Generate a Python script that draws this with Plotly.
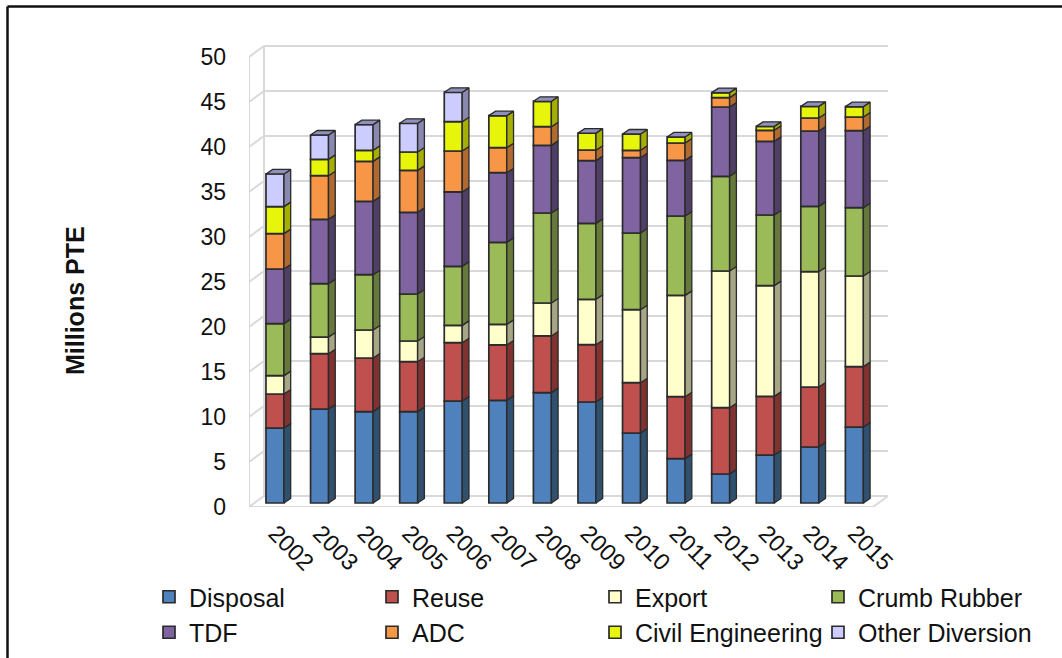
import plotly.graph_objects as go

years = list(range(2002, 2016))
disposal = [8.33, 10.44, 10.15, 10.15, 11.33, 11.41, 12.26, 11.22, 7.78, 4.93, 3.22, 5.33, 6.22, 8.44]
reuse = [3.78, 6.15, 5.96, 5.55, 6.48, 6.15, 6.30, 6.37, 5.59, 6.88, 7.37, 6.52, 6.67, 6.71]
export = [2.04, 1.85, 3.11, 2.30, 1.93, 2.29, 3.66, 5.04, 8.11, 11.26, 15.19, 12.30, 12.81, 10.07]
crumb_rubber = [5.78, 5.93, 6.15, 5.22, 6.56, 9.11, 10.00, 8.44, 8.52, 8.82, 10.52, 7.85, 7.26, 7.59]
tdf = [6.07, 7.15, 8.15, 9.08, 8.26, 7.74, 7.52, 6.97, 8.37, 6.18, 7.70, 8.19, 8.37, 8.56]
adc = [3.93, 4.85, 4.44, 4.66, 4.55, 2.78, 2.07, 1.16, 0.82, 1.93, 1.04, 1.22, 1.45, 1.52]
civil_engineering = [3.00, 1.81, 1.23, 2.04, 3.26, 3.56, 2.82, 1.90, 1.81, 0.67, 0.56, 0.44, 1.29, 1.15]
other_diversion = [3.63, 2.71, 2.85, 3.19, 3.26, 0, 0, 0, 0, 0, 0, 0, 0, 0]

series = [
    ("Disposal", disposal, "#4F81BD", "#30506F"),
    ("Reuse", reuse, "#C0504D", "#7F322F"),
    ("Export", export, "#FFFFCC", "#A6A686"),
    ("Crumb Rubber", crumb_rubber, "#9BBB59", "#66793A"),
    ("TDF", tdf, "#8064A2", "#4F3E66"),
    ("ADC", adc, "#F79646", "#B0692F"),
    ("Civil Engineering", civil_engineering, "#E6F50A", "#A5AF00"),
    ("Other Diversion", other_diversion, "#CCCCFF", "#8888B0"),
]
TOP_FACE = "#9090BC"
EDGE = "#2B2B2B"
WALL = "#D9D9D9"

# Figure and plot-area size in pixels
W, H = 1062, 658
M_L, M_R, M_T, M_B = 249, 172, 40, 151
PX_PER_YEAR = 44.57
PX_PER_UNIT = 9.0
plot_w = W - M_L - M_R
plot_h = H - M_T - M_B
x_min = years[0] - 0.5
x_max = x_min + plot_w / PX_PER_YEAR
y_max = plot_h / PX_PER_UNIT

# Pseudo-3D geometry, in axis units
WALL_DX, WALL_DY = 15 / PX_PER_YEAR, 11 / PX_PER_UNIT
BAR_DX, BAR_DY = 6.7 / PX_PER_YEAR, 4.5 / PX_PER_UNIT
BAR_LIFT = 4 / PX_PER_UNIT
BAR_WIDTH = 18 / PX_PER_YEAR
BAR_SHIFT = 3.7 / PX_PER_YEAR

fig = go.Figure()

cumulative = [BAR_LIFT] * len(years)
for name, values, face, side in series:
    bases = list(cumulative)
    fig.add_trace(go.Bar(
        x=years, y=values, base=bases, name=name,
        offset=BAR_SHIFT - BAR_WIDTH / 2, width=BAR_WIDTH,
        marker=dict(color=face, line=dict(color=EDGE, width=1.7)),
    ))
    sx, sy = [], []
    for yr, b, v in zip(years, bases, values):
        if v <= 0:
            continue
        x1 = yr + BAR_SHIFT + BAR_WIDTH / 2
        sx += [x1, x1 + BAR_DX, x1 + BAR_DX, x1, x1, None]
        sy += [b, b + BAR_DY, b + v + BAR_DY, b + v, b, None]
    fig.add_trace(go.Scatter(
        x=sx, y=sy, mode="lines", fill="toself", fillcolor=side,
        line=dict(color=EDGE, width=1.3), showlegend=False, hoverinfo="skip",
    ))
    cumulative = [c + v for c, v in zip(cumulative, values)]

# Cap on top of every stack
tx, ty = [], []
for yr, c in zip(years, cumulative):
    x0 = yr + BAR_SHIFT - BAR_WIDTH / 2
    x1 = x0 + BAR_WIDTH
    tx += [x0, x0 + BAR_DX, x1 + BAR_DX, x1, x0, None]
    ty += [c, c + BAR_DY, c + BAR_DY, c, c, None]
fig.add_trace(go.Scatter(
    x=tx, y=ty, mode="lines", fill="toself", fillcolor=TOP_FACE,
    line=dict(color=EDGE, width=1.3), showlegend=False, hoverinfo="skip",
))

# Chart walls and floor behind the bars
ticks = list(range(0, 51, 5))
x_front_l = x_min
x_front_r = x_min + len(years)
x_back_l = x_front_l + WALL_DX
x_back_r = x_front_r + WALL_DX


def wall_line(x0, y0, x1, y1):
    return dict(type="line", xref="x", yref="y", x0=x0, y0=y0, x1=x1, y1=y1,
                layer="below", line=dict(color=WALL, width=2))


shapes = []
for t in ticks:
    shapes.append(wall_line(x_back_l, t + WALL_DY, x_back_r, t + WALL_DY))
    shapes.append(wall_line(x_front_l, t, x_back_l, t + WALL_DY))
shapes.append(wall_line(x_front_l, 0, x_front_l, 50))
shapes.append(wall_line(x_back_l, WALL_DY, x_back_l, 50 + WALL_DY))
shapes.append(wall_line(x_front_l, 0, x_front_r, 0))
shapes.append(wall_line(x_front_r, 0, x_back_r, WALL_DY))


def paper_x(px):
    return (px - M_L) / plot_w


def paper_y(px):
    return 1 - (px - M_T) / plot_h


# Black frame around the chart, open at the bottom and right edge
for (x0, y0, x1, y1) in [(7.5, 6.5, 7.5, 658), (7.5, 6.5, 1062, 6.5)]:
    shapes.append(dict(type="line", xref="paper", yref="paper",
                       x0=paper_x(x0), y0=paper_y(y0), x1=paper_x(x1), y1=paper_y(y1),
                       line=dict(color="#111111", width=2.5)))

fig.update_layout(
    width=W, height=H,
    margin=dict(l=M_L, r=M_R, t=M_T, b=M_B, autoexpand=False),
    paper_bgcolor="white", plot_bgcolor="white",
    barmode="overlay",
    font=dict(family="Liberation Sans", color="#111111"),
    shapes=shapes,
    xaxis=dict(range=[x_min, x_max], tickvals=years, ticktext=[str(y) for y in years],
               tickangle=45, showgrid=False, zeroline=False, showline=False, ticks="",
               tickfont=dict(size=23.5), ticklabelshift=4, ticklabelstandoff=7, fixedrange=True),
    yaxis=dict(range=[0, y_max], tickvals=ticks, showgrid=False, zeroline=False,
               showline=False, ticks="", tickfont=dict(size=23),
               ticklabelstandoff=22, fixedrange=True),
    legend=dict(orientation="h", x=paper_x(149), xanchor="left",
                y=paper_y(574), yanchor="top", entrywidth=178, entrywidthmode="pixels",
                font=dict(size=25), traceorder="normal", bgcolor="rgba(0,0,0,0)"),
    annotations=[dict(text="<b>Millions PTE</b>", textangle=-90, showarrow=False,
                      xref="paper", yref="paper", x=paper_x(75), y=paper_y(300),
                      xanchor="center", yanchor="middle", font=dict(size=25, color="#111111"))],
)

fig.write_html("out.html")
